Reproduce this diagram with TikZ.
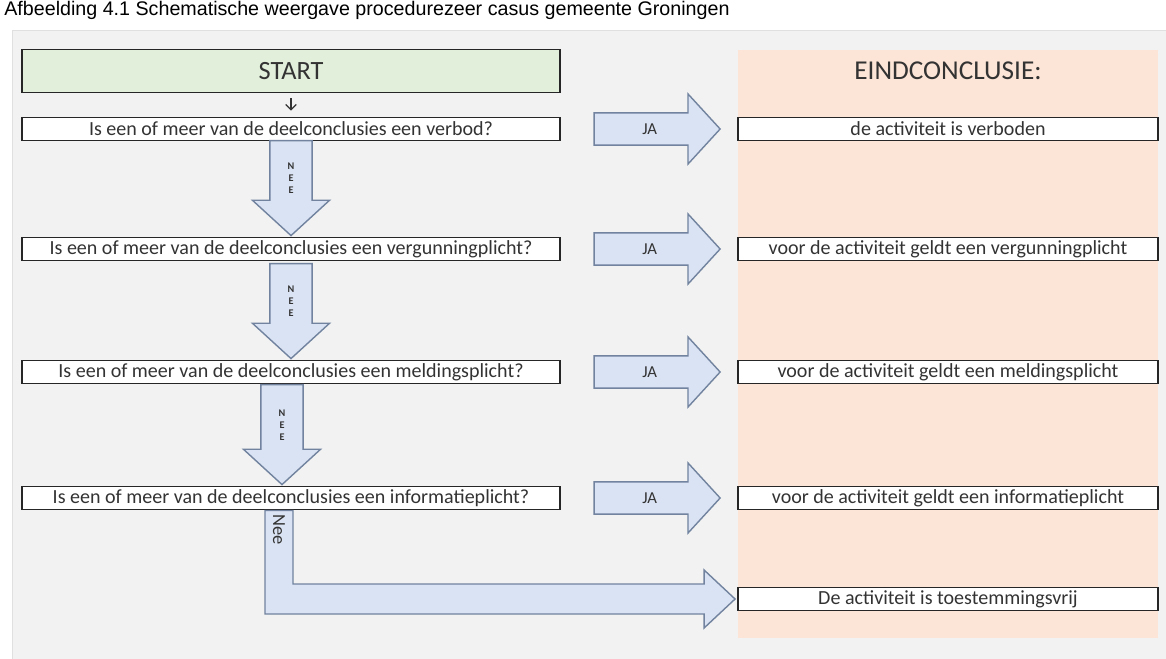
\documentclass[tikz,border=0pt]{standalone}
\usepackage{fontspec}
\setmainfont{Carlito}
\newfontfamily\capfont{Liberation Sans}
\usetikzlibrary{shapes.arrows,arrows.meta,calc,positioning}

\definecolor{panelgray}{HTML}{F2F2F2}
\definecolor{panelorange}{HTML}{FCE4D6}
\definecolor{startgreen}{HTML}{E2EFDA}
\definecolor{arrowblue}{HTML}{DAE3F3}
\definecolor{arrowline}{HTML}{71839F}
\definecolor{boxtext}{HTML}{333333}

\tikzset{
  vraagbox/.style={draw=black!85, line width=1.1pt, fill=white, minimum width=10.76cm,
    minimum height=0.46cm, inner sep=0pt, text=boxtext, font=\fontsize{11.4}{13}\selectfont},
  conclbox/.style={vraagbox, minimum width=8.4cm},
  startbox/.style={vraagbox, fill=startgreen, minimum height=0.86cm,
    font=\fontsize{15}{17}\selectfont},
  jaarrow/.style={single arrow, draw=arrowline, line width=0.8pt, fill=arrowblue,
    minimum height=2.52cm, minimum width=1.4cm, single arrow head extend=0.38cm,
    single arrow tip angle=95, inner xsep=0pt, inner ysep=0.2cm, text=boxtext,
    font=\fontsize{9.5}{10}\selectfont, anchor=tip},
  neearrow/.style={jaarrow, shape border rotate=270, minimum height=1.9cm,
    minimum width=1.46cm, single arrow head extend=0.35cm, inner sep=0.34cm,
    font=\fontsize{5.8}{6.4}\selectfont\bfseries},
  blockarr/.style={draw=arrowline, line width=0.8pt, fill=arrowblue}
}

\begin{document}
\begin{tikzpicture}[x=0.02cm,y=-0.02cm]
\useasboundingbox (0,0) rectangle (1166,659);
% achtergrond
\node[anchor=base west, inner sep=0pt, font=\capfont\fontsize{11.2}{12}\selectfont] (caption) at (4,15)
  {Afbeelding 4.1 Schematische weergave procedurezeer casus gemeente Groningen};
\draw[draw=black!12, fill=panelgray] (12,30) rectangle (1170,663);
\fill[panelorange] (738,50) rectangle (1158,638);

% linker kolom: start en vragen
\node[startbox] (start) at (291,71) {START};
\node[vraagbox] (q1) at (291,129) {Is een of meer van de deelconclusies een verbod?};
\node[vraagbox] (q2) at (291,249) {Is een of meer van de deelconclusies een vergunningplicht?};
\node[vraagbox] (q3) at (291,372) {Is een of meer van de deelconclusies een meldingsplicht?};
\node[vraagbox] (q4) at (291,498) {Is een of meer van de deelconclusies een informatieplicht?};

% rechter kolom: eindconclusies
\node[font=\fontsize{15.5}{17}\selectfont, text=boxtext] (eind) at (948,71) {EINDCONCLUSIE:};
\node[conclbox] (c1) at (948,129) {de activiteit is verboden};
\node[conclbox] (c2) at (948,249) {voor de activiteit geldt een vergunningplicht};
\node[conclbox] (c3) at (948,372) {voor de activiteit geldt een meldingsplicht};
\node[conclbox] (c4) at (948,498) {voor de activiteit geldt een informatieplicht};
\node[conclbox] (c5) at (948,599) {De activiteit is toestemmingsvrij};

\draw[-{Straight Barb[length=3pt,width=6pt]}, line width=0.7pt, draw=boxtext,
  shorten <=0.1cm, shorten >=0.12cm] (start) -- (q1);

% JA pijlen
\foreach \i in {1,...,4}
  \node[jaarrow] (ja\i) at ($(c\i.west)+(-16,0)$) {JA};

% NEE pijlen
\node[neearrow] (nee1) at (q2.north) {\shortstack{N\\E\\E}};
\node[neearrow] (nee2) at (q3.north) {\shortstack{N\\E\\E}};
\node[neearrow, minimum height=2.0cm] (nee3) at ($(q4.north)+(-9,0)$) {\shortstack{N\\E\\E}};

% laatste Nee naar toestemmingsvrij
\draw[blockarr] let \p1=(q4.south), \p2=(c5.west) in
  (\x1-0.52cm,\y1) -- (\x1-0.52cm,\y2-0.3cm) -- (\x2-0.66cm,\y2-0.3cm)
  -- (\x2-0.66cm,\y2-0.58cm) -- (\x2-0.04cm,\y2) -- (\x2-0.66cm,\y2+0.58cm)
  -- (\x2-0.66cm,\y2+0.3cm) -- (\x1+0.04cm,\y2+0.3cm) -- (\x1+0.04cm,\y1) -- cycle;
\node[rotate=-90, text=boxtext, font=\fontsize{10.5}{11}\selectfont] (nee4) at ($(q4.south)+(-12,19)$) {Nee};
\end{tikzpicture}
\end{document}
